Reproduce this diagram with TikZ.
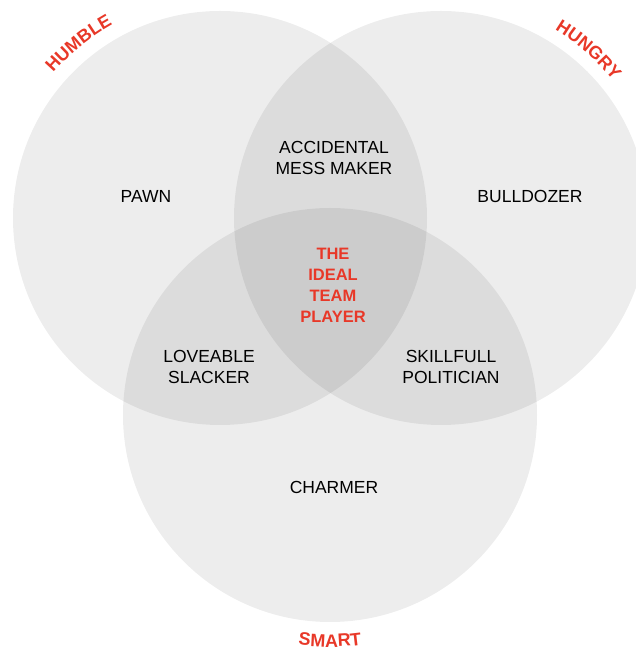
\documentclass[tikz,border=0pt]{standalone}
\usepackage{fontspec}
\setmainfont{Liberation Sans}
\usetikzlibrary{positioning,decorations.text}
\definecolor{traitred}{HTML}{E83828}
\newcommand{\traitfont}{\fontsize{18}{20}\selectfont\bfseries}

\begin{document}
\begin{tikzpicture}[x=1pt,y=1pt,
  set/.style={circle,minimum size=414pt,inner sep=0pt,fill=black,fill opacity=0.07},
  type/.style={align=center,font=\fontsize{17.5}{21}\selectfont},
  ideal/.style={align=center,text=traitred,font=\fontsize{16.5}{21}\selectfont\bfseries},
  trait/.style={decorate,decoration={text along path,text align=center,text color=traitred,text={|\traitfont|#1}}}]
  \useasboundingbox (0,0) rectangle (636,650);
  \node[set] (HUM) at (220,432) {};
  \node[set] (HUN) at (441,432) {};
  \node[set] (SMA) at (330,235) {};
  % the eight kinds of player
  \node[type] (PAWN) at (146,454) {PAWN};
  \node[type] (MESS) at (334,492) {ACCIDENTAL\\MESS MAKER};
  \node[type] (BULL) at (530,454) {BULLDOZER};
  \node[ideal] (IDEAL) at (333,365) {THE\\IDEAL\\TEAM\\PLAYER};
  \node[type] (SLACK) at (209,283) {LOVEABLE\\SLACKER};
  \node[type] (POLI) at (451,283) {SKILLFULL\\POLITICIAN};
  \node[type] (CHARM) at (334,163) {CHARMER};
  % the three virtues, round the rims
  \path[trait=HUMBLE] ([shift={(150:221)}]HUM.center) arc[start angle=150,end angle=108,radius=221];
  \path[trait=HUNGRY] ([shift={(70:220)}]HUN.center) arc[start angle=70,end angle=27.4,radius=220];
  \path[trait=SMART] ([shift={(-110:232)}]SMA.center) arc[start angle=-110,end angle=-70,radius=232];
\end{tikzpicture}
\end{document}
